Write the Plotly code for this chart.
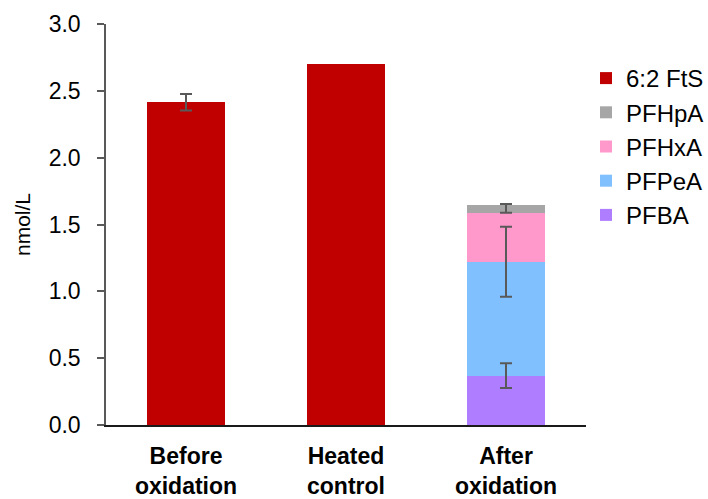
import plotly.graph_objects as go

# Sample groups on the x axis (two-line labels)
categories = ["Before<br>oxidation", "Heated<br>control", "After<br>oxidation"]

# Concentrations, nmol/L
fts_62 = [2.414, 2.70, None]
pfba = [None, None, 0.369]
pfpea = [None, None, 0.852]
pfhxa = [None, None, 0.367]
pfhpa = [None, None, 0.058]

# Error bars: upper / lower extent, measured from each segment top
fts_62_err_plus = [0.062, None, None]
fts_62_err_minus = [0.062, None, None]
pfba_err_plus = [None, None, 0.093]
pfba_err_minus = [None, None, 0.093]
pfpea_err_plus = [None, None, 0.262]
pfpea_err_minus = [None, None, 0.262]
pfhpa_err_plus = [None, None, 0.007]
pfhpa_err_minus = [None, None, 0.058]

FONT = "Liberation Sans, Arial, sans-serif"
ERR_COLOR = "#595959"
BAR_WIDTH = 0.49

# Stack order bottom -> top; legend rank puts 6:2 FtS first
series = [
    ("PFBA", pfba, "#AF7DFF", 5),
    ("PFPeA", pfpea, "#80C0FF", 4),
    ("PFHxA", pfhxa, "#FF99CC", 3),
    ("PFHpA", pfhpa, "#A6A6A6", 2),
    ("6:2 FtS", fts_62, "#C00000", 1),
]

fig = go.Figure()
for name, vals, color, rank in series:
    fig.add_trace(
        go.Bar(
            x=categories,
            y=vals,
            name=name,
            legendgroup=name,
            legendrank=rank,
            marker=dict(color=color, line=dict(width=0)),
            width=BAR_WIDTH,
        )
    )

# Error bars drawn on top of all bars, anchored at each segment's cumulative top
err_sets = [
    (pfba, pfba_err_plus, pfba_err_minus),
    (pfpea, pfpea_err_plus, pfpea_err_minus),
    (pfhxa, [None] * 3, [None] * 3),
    (pfhpa, pfhpa_err_plus, pfhpa_err_minus),
    (fts_62, fts_62_err_plus, fts_62_err_minus),
]
running = [0.0] * len(categories)
ex, ey, eplus, eminus = [], [], [], []
for vals, plus, minus in err_sets:
    for i, v in enumerate(vals):
        if v is None:
            continue
        running[i] += v
        if plus[i] is not None:
            ex.append(categories[i])
            ey.append(running[i])
            eplus.append(plus[i])
            eminus.append(minus[i])

fig.add_trace(
    go.Scatter(
        x=ex,
        y=ey,
        mode="markers",
        marker=dict(size=1, color="rgba(0,0,0,0)"),
        error_y=dict(
            type="data",
            symmetric=False,
            array=eplus,
            arrayminus=eminus,
            color=ERR_COLOR,
            thickness=2,
            width=6,
        ),
        showlegend=False,
        hoverinfo="skip",
    )
)

fig.update_layout(
    width=708,
    height=499,
    barmode="stack",
    plot_bgcolor="white",
    paper_bgcolor="white",
    margin=dict(l=106, r=122, t=24, b=74, autoexpand=False),
    font=dict(family=FONT, color="#000000"),
    showlegend=True,
    legend=dict(
        xref="container",
        yref="container",
        x=586 / 708,
        xanchor="left",
        y=1 - 56 / 499,
        yanchor="top",
        traceorder="normal",
        tracegroupgap=5,
        itemwidth=30,
        font=dict(size=24, family=FONT, color="#000000"),
        bgcolor="rgba(0,0,0,0)",
    ),
    xaxis=dict(
        showline=True,
        linecolor="#1a1a1a",
        linewidth=2,
        ticks="",
        tickfont=dict(size=23, family=FONT, color="#000000", weight="bold"),
        ticklabelstandoff=9,
        showgrid=False,
        zeroline=False,
        automargin=False,
    ),
    yaxis=dict(
        range=[0, 3.0],
        dtick=0.5,
        tickformat=".1f",
        showline=True,
        linecolor="#595959",
        linewidth=1.5,
        ticks="outside",
        ticklen=7,
        tickwidth=1.5,
        tickcolor="#595959",
        tickfont=dict(size=23, family=FONT, color="#000000"),
        ticklabelstandoff=12,
        showgrid=False,
        zeroline=False,
        automargin=False,
        title=dict(text="nmol/L", font=dict(size=21, family=FONT, color="#000000"), standoff=12),
    ),
)

fig.write_html("out.html")
